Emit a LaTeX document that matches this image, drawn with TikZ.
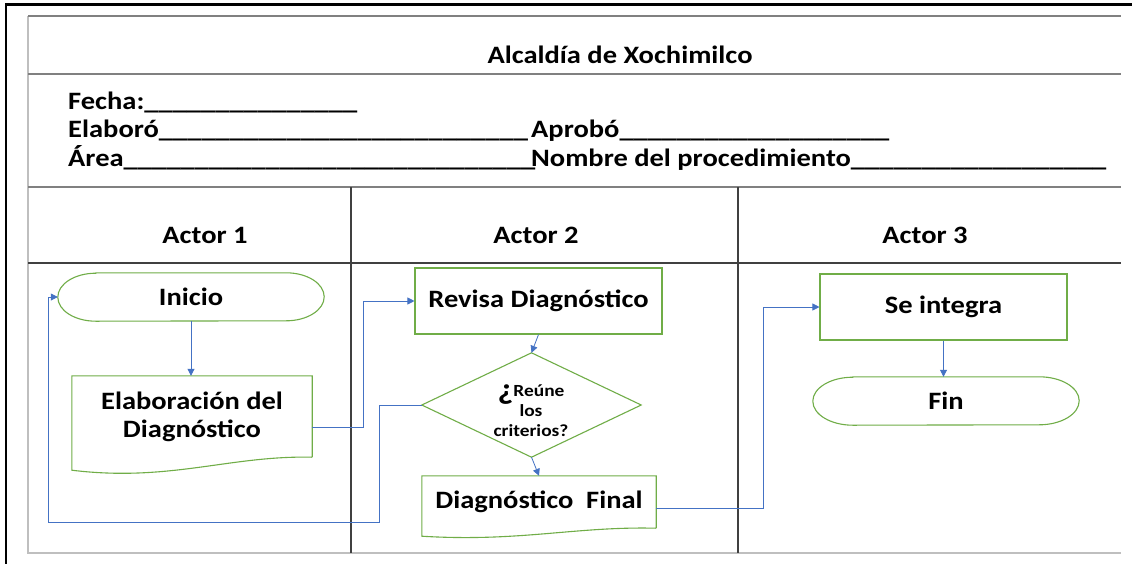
\documentclass[tikz,border=0pt]{standalone}
\usepackage{fontspec}
\setmainfont{Carlito}[FakeStretch=1.14]
\usetikzlibrary{arrows.meta}
\definecolor{shapegreen}{HTML}{70AD47}
\definecolor{connblue}{HTML}{4472C4}
\definecolor{gridgray}{HTML}{808080}
\definecolor{griddark}{HTML}{404040}
\definecolor{gridlight}{HTML}{BFBFBF}
\tikzset{
  gline/.style={draw=shapegreen, line width=1.1pt},
  conn/.style={draw=connblue, line width=0.8pt, -{Triangle[length=7pt,width=7pt]}},
  bigtxt/.style={font=\bfseries\fontsize{25}{28}\selectfont, inner sep=0pt, align=center},
  hdrtxt/.style={font=\bfseries\fontsize{25}{28}\selectfont, inner sep=0pt, anchor=base west},
  procbox/.style={bigtxt, draw=shapegreen, line width=1.1pt, minimum width=247pt, minimum height=66pt},
  termbox/.style={bigtxt, minimum width=266pt, minimum height=48pt},
  docbox/.style={bigtxt},
  decbox/.style={inner sep=0pt, minimum width=219pt, minimum height=104pt},
  smalltxt/.style={font=\bfseries\fontsize{17}{20}\selectfont, inner sep=0pt, align=center},
}
\begin{document}
\begin{tikzpicture}[x=1pt,y=1pt]
\useasboundingbox (0,0) rectangle (1132,-563);
\fill[white] (0,0) rectangle (1132,-563);
\clip (0,0) rectangle (1132,-563);
% outer frame (only top and left edges are visible)
\draw[black, line width=2.6pt] (6,-600) -- (6,-4.5) -- (1200,-4.5);
% table lines
\draw[gridlight, line width=1.8pt] (28,-16) -- (28,-553) -- (1121,-553);
\draw[gridgray, line width=1.4pt] (28,-16) -- (1121,-16);
\draw[gridgray, line width=1.4pt] (28,-74) -- (1121,-74);
\draw[gridgray, line width=1.4pt] (28,-187) -- (1121,-187);
\draw[griddark, line width=1.1pt] (28,-263) -- (1121,-263);
\draw[griddark, line width=1.1pt] (351,-187) -- (351,-553);
\draw[griddark, line width=1.1pt] (738,-187) -- (738,-553);
% header texts
\node[bigtxt, anchor=base] (title) at (620,-63) {Alcaldía de Xochimilco};
\node[hdrtxt] (fecha) at (68,-109) {Fecha:\_\_\_\_\_\_\_\_\_\_\_\_\_\_\_};
\node[hdrtxt] (elaboro) at (68,-137) {Elaboró\_\_\_\_\_\_\_\_\_\_\_\_\_\_\_\_\_\_\_\_\_\_\_\_\_\_};
\node[hdrtxt] (aprobo) at (531,-137) {Aprobó\_\_\_\_\_\_\_\_\_\_\_\_\_\_\_\_\_\_\_};
\node[hdrtxt] (area) at (68,-166) {Área\_\_\_\_\_\_\_\_\_\_\_\_\_\_\_\_\_\_\_\_\_\_\_\_\_\_\_\_\_};
\node[hdrtxt] (nombre) at (531,-166) {Nombre del procedimiento\_\_\_\_\_\_\_\_\_\_\_\_\_\_\_\_\_\_};
% actors
\node[bigtxt, anchor=base] (actor1) at (205,-243) {Actor 1};
\node[bigtxt, anchor=base] (actor2) at (536,-243) {Actor 2};
\node[bigtxt, anchor=base] (actor3) at (925,-243) {Actor 3};
% Inicio terminal
\node[termbox] (inicio) at (191,-297) {Inicio};
\draw[gline] ([xshift=38]inicio.north west) -- ([xshift=-38]inicio.north east)
  arc[start angle=90,end angle=-90,x radius=38,y radius=24]
  -- ([xshift=38]inicio.south west)
  arc[start angle=270,end angle=90,x radius=38,y radius=24] -- cycle;
% Elaboracion document
\node[docbox, minimum width=240pt, minimum height=82pt] (elab) at (192,-417) {Elaboración del\\Diagnóstico};
\draw[gline] ([yshift=1]elab.south east) -- (elab.north east) -- (elab.north west)
  -- ([yshift=-12]elab.south west)
  .. controls ([xshift=98,yshift=-24]elab.south west) and ([xshift=-82,yshift=3]elab.south east) .. ([yshift=1]elab.south east);
% Revisa
\node[procbox] (revisa) at (538.5,-301) {Revisa Diagnóstico};
% Decision
\node[decbox] (dec) at (531.5,-405) {};
\draw[gline] (dec.north) -- (dec.east) -- (dec.south) -- (dec.west) -- cycle;
\node[smalltxt] (dectxt) at (531,-411) {\raisebox{-3pt}{\fontsize{30}{20}\selectfont ¿}Reúne\\los\\criterios?};
% Diagnostico final document
\node[docbox, minimum width=234pt, minimum height=52pt] (final) at (539,-502) {Diagnóstico\ \ Final};
\draw[gline] (final.south east) -- (final.north east) -- (final.north west)
  -- ([yshift=-8]final.south west)
  .. controls ([xshift=98,yshift=-14]final.south west) and ([xshift=-81,yshift=2]final.south east) .. (final.south east);
% Se integra
\node[procbox] (seint) at (943.5,-307) {Se integra};
% Fin terminal
\node[termbox] (fin) at (946,-401) {Fin};
\draw[gline] ([xshift=40]fin.north west) -- ([xshift=-40]fin.north east)
  arc[start angle=90,end angle=-90,x radius=40,y radius=24]
  -- ([xshift=40]fin.south west)
  arc[start angle=270,end angle=90,x radius=40,y radius=24] -- cycle;
% connectors
\coordinate (bendA) at (363,-427);
\coordinate (loopA) at (379,-522);
\coordinate (loopB) at (48,-522);
\coordinate (bendB) at (763,-508);
\draw[conn] (inicio.south) -- (inicio.south |- elab.north);
\draw[conn] ([yshift=-10]elab.east) -- (bendA) |- (revisa.west);
\draw[conn] (revisa.south) -- (dec.north);
\draw[conn] (dec.south) -- (final.north);
\draw[conn] (dec.west) -| (loopA) -- (loopB) |- (inicio.west);
\draw[conn] ([yshift=-6]final.east) -- (bendB) |- (seint.west);
\draw[conn] (seint.south) -- (seint.south |- fin.north);
\end{tikzpicture}
\end{document}
